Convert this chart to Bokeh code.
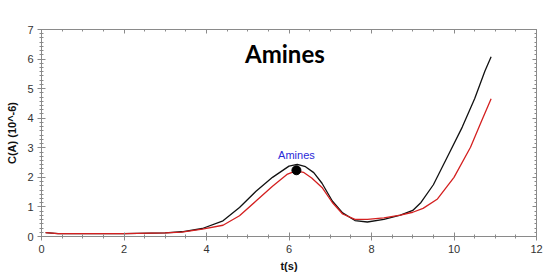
from bokeh.plotting import figure
from bokeh.models import LinearAxis, Label, Range1d, FixedTicker, ColumnDataSource, CustomLabelingPolicy
from bokeh.embed import file_html
from bokeh.resources import INLINE

t_black = [0.1, 0.4, 1, 2, 3, 3.4, 3.9, 4.4, 4.8, 5.2, 5.6, 6.0, 6.2, 6.4, 6.6, 6.8, 7.05, 7.3, 7.6, 7.9, 8.3, 8.7, 9.0, 9.2, 9.5, 9.85, 10.2, 10.5, 10.75, 10.9]
black = [0.13, 0.1, 0.1, 0.1, 0.12, 0.16, 0.27, 0.53, 0.98, 1.53, 2.0, 2.38, 2.44, 2.36, 2.16, 1.8, 1.2, 0.8, 0.54, 0.49, 0.58, 0.72, 0.88, 1.15, 1.75, 2.72, 3.7, 4.66, 5.6, 6.08]
t_red = [0.1, 0.4, 1, 2, 3, 3.4, 3.9, 4.4, 4.8, 5.2, 5.6, 5.95, 6.17, 6.35, 6.55, 6.8, 7.05, 7.3, 7.6, 7.9, 8.3, 8.7, 9.0, 9.25, 9.6, 10.0, 10.4, 10.65, 10.9]
red = [0.13, 0.1, 0.1, 0.1, 0.12, 0.15, 0.25, 0.38, 0.7, 1.2, 1.7, 2.1, 2.22, 2.17, 1.98, 1.66, 1.15, 0.76, 0.58, 0.58, 0.63, 0.72, 0.82, 0.95, 1.27, 2.0, 3.02, 3.85, 4.66]
marker_t = [6.18]
marker_c = [2.24]
marker_label = "Amines"
title_text = "Amines"
x_label = "t(s)"
y_label = "C(A) (10^-6)"
x_ticks = [0, 2, 4, 6, 8, 10, 12]
y_ticks = [0, 1, 2, 3, 4, 5, 6, 7]

AX = "#8a8a8a"
FONT = "Liberation Sans"

p = figure(width=548, height=274, output_backend="svg", toolbar_location=None,
           x_range=Range1d(0, 12), y_range=Range1d(0, 7),
           min_border_left=41, min_border_right=12, min_border_top=29, min_border_bottom=38,
           x_axis_label=x_label, y_axis_label=y_label)
p.background_fill_color = "white"
p.border_fill_color = "white"
p.outline_line_color = AX
p.grid.visible = False

xt = FixedTicker(ticks=x_ticks, minor_ticks=[i * 0.5 for i in range(25)])
yt = FixedTicker(ticks=y_ticks, minor_ticks=[i / 7 for i in range(50)])
p.xaxis.ticker = xt
p.yaxis.ticker = yt

for ax in (p.xaxis[0], p.yaxis[0]):
    ax.axis_line_color = AX
    ax.major_tick_line_color = AX
    ax.minor_tick_line_color = AX
    ax.major_tick_in = 4
    ax.major_tick_out = 4
    ax.minor_tick_in = 2
    ax.minor_tick_out = 2
    ax.major_label_text_font = FONT
    ax.major_label_text_font_size = "11px"
    ax.major_label_text_color = "#333333"
    ax.axis_label_text_font = FONT
    ax.axis_label_text_font_size = "11px"
    ax.axis_label_text_font_style = "bold"
    ax.axis_label_text_color = "#111111"
p.xaxis.major_label_standoff = 4
p.xaxis.axis_label_standoff = 4
p.yaxis.major_label_standoff = 4
p.yaxis.axis_label_standoff = 6

no_labels = CustomLabelingPolicy(code="""
    const all = Array.from(indices)
    for (const i of all) indices.unset(i)
    return indices
""")

for loc, tk in (("right", yt), ("above", xt)):
    a = LinearAxis(ticker=tk, major_label_policy=no_labels)
    a.axis_line_color = AX
    a.major_tick_line_color = AX
    a.minor_tick_line_color = AX
    a.major_tick_in = 4
    a.major_tick_out = 0
    a.minor_tick_in = 2
    a.minor_tick_out = 0
    a.major_label_standoff = 0
    p.add_layout(a, loc)

src_b = ColumnDataSource(dict(t=t_black, c=black))
src_r = ColumnDataSource(dict(t=t_red, c=red))
p.line("t", "c", source=src_b, line_color="#111111", line_width=1.3, line_join="round")
p.line("t", "c", source=src_r, line_color="#d42020", line_width=1.3, line_join="round")

p.scatter(marker_t, marker_c, size=9, fill_color="black", line_color="black")
p.add_layout(Label(x=marker_t[0], y=marker_c[0], text=marker_label, text_color="#2a2ad8",
                   text_font=FONT, text_font_size="11px", text_align="center",
                   text_baseline="bottom", y_offset=9))

p.add_layout(Label(x=5.9, y=6.2, text=title_text, text_color="black", text_font="Lato",
                   text_font_style="bold", text_font_size="24px", text_align="center",
                   text_baseline="middle"))

open("out.html", "w").write(file_html(p, INLINE))
